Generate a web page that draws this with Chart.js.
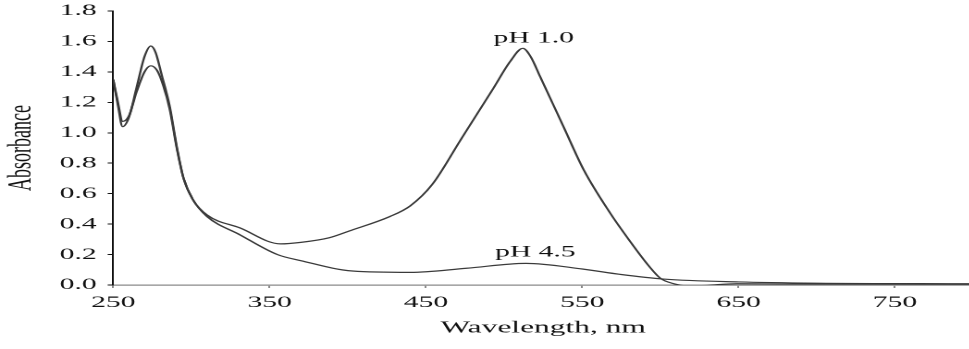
<!DOCTYPE html>
<html lang="en">
<head>
  <meta charset="UTF-8">
  <title>Absorbance spectra, pH 1.0 and pH 4.5</title>
  <script src="https://cdn.jsdelivr.net/npm/chart.js"></script>
  <style>
    html, body {
      margin: 0;
      padding: 0;
      background: #fff;
      overflow: hidden;
    }
    /* the original figure is stretched sideways, so the whole chart is too */
    #wrap {
      width: 526px;
      height: 349px;
      transform: scaleX(1.85);
      transform-origin: 0 0;
    }
  </style>
</head>
<body>

<div id="wrap">
  <canvas id="myChart" width="526" height="349"></canvas>
</div>

<script>
/****************************************************************
  DATA
****************************************************************/
const xTicks = [250, 350, 450, 550, 650, 750];

// pH 1.0 spectrum
const wlPH1  = [250, 253, 256, 260, 265, 270, 274, 277, 281, 286, 291, 295, 301, 310,
                331, 357, 370, 388, 401, 427, 440, 454, 472, 493, 504, 512, 517, 523,
                538, 551, 568, 580, 593, 600, 608, 619, 630, 649, 700, 800];
const absPH1 = [1.35, 1.18, 1.04, 1.10, 1.30, 1.50, 1.57, 1.53, 1.38, 1.18, 0.89, 0.70, 0.56, 0.46,
                0.375, 0.27, 0.28, 0.31, 0.355, 0.45, 0.52, 0.66, 0.95, 1.29, 1.47, 1.555, 1.50, 1.37,
                1.04, 0.755, 0.47, 0.295, 0.12, 0.044, 0.01, -0.007, -0.002, 0.008, 0.006, 0.005];

// pH 4.5 spectrum
const wlPH45  = [250, 253, 256, 260, 265, 270, 274, 278, 282, 286, 291, 295, 301, 310,
                 331, 355, 370, 403, 440, 476, 514, 550, 574, 602, 650, 700, 800];
const absPH45 = [1.35, 1.20, 1.075, 1.11, 1.27, 1.40, 1.44, 1.41, 1.31, 1.16, 0.88, 0.70, 0.56, 0.45,
                 0.33, 0.20, 0.16, 0.092, 0.083, 0.11, 0.142, 0.105, 0.07, 0.039, 0.02, 0.012, 0.008];

// curve labels: text, wavelength, absorbance (baseline)
const labelText = ['pH 1.0', 'pH 4.5'];
const labelWl   = [519, 520];
const labelAbs  = [1.593, 0.186];

/****************************************************************
  CHART
****************************************************************/
const serif = '"Liberation Serif", "Times New Roman", serif';

const curveLabels = {
  id: 'curveLabels',
  afterDatasetsDraw(chart) {
    const ctx = chart.ctx;
    const xs = chart.scales.x, ys = chart.scales.y;
    ctx.save();
    ctx.font = '16px ' + serif;
    ctx.fillStyle = '#111';
    ctx.textAlign = 'center';
    ctx.textBaseline = 'alphabetic';
    for (let i = 0; i < labelText.length; i++) {
      ctx.fillText(labelText[i], xs.getPixelForValue(labelWl[i]), ys.getPixelForValue(labelAbs[i]));
    }
    ctx.restore();
  }
};

const toPoints = (xs, ys) => xs.map((x, i) => ({ x, y: ys[i] }));

new Chart(document.getElementById('myChart').getContext('2d'), {
  type: 'line',
  data: {
    datasets: [
      { label: 'pH 1.0', data: toPoints(wlPH1, absPH1), borderColor: '#3a3a3a', borderWidth: 1.2,
        pointRadius: 0, cubicInterpolationMode: 'monotone', fill: false },
      { label: 'pH 4.5', data: toPoints(wlPH45, absPH45), borderColor: '#3a3a3a', borderWidth: 1.2,
        pointRadius: 0, cubicInterpolationMode: 'monotone', fill: false }
    ]
  },
  options: {
    responsive: false,
    animation: false,
    devicePixelRatio: 2,
    layout: { padding: { top: 11, right: 0, bottom: 0, left: 0 } },
    plugins: {
      legend: { display: false },
      tooltip: { enabled: false }
    },
    scales: {
      x: {
        type: 'linear',
        min: 250,
        max: 800,
        afterBuildTicks: s => { s.ticks = xTicks.map(v => ({ value: v })); },
        afterFit: s => { s.height = 64; },
        border: { color: '#8a8a8a', width: 1.3 },
        grid: { drawOnChartArea: false, drawTicks: true, tickLength: 3, color: '#8a8a8a' },
        ticks: { color: '#111', padding: 5, maxRotation: 0, font: { family: serif, size: 16 } },
        title: { display: true, text: 'Wavelength, nm', color: '#111', padding: { top: 0, bottom: 11 },
                 font: { family: serif, size: 17 } }
      },
      y: {
        min: 0,
        max: 1.8,
        afterFit: s => { s.width = 61.2; s.paddingTop = 0; s.paddingBottom = 0; },
        border: { color: '#111', width: 1 },
        grid: { drawOnChartArea: false, drawTicks: true, tickLength: 3, color: '#111' },
        ticks: { stepSize: 0.2, color: '#111', padding: 6, font: { family: serif, size: 16 },
                 callback: v => Number(v).toFixed(1) },
        title: { display: true, text: 'Absorbance', color: '#111', padding: { top: 1, bottom: 0 },
                 font: { family: serif, size: 18 } }
      }
    }
  },
  plugins: [curveLabels]
});
</script>
</body>
</html>
